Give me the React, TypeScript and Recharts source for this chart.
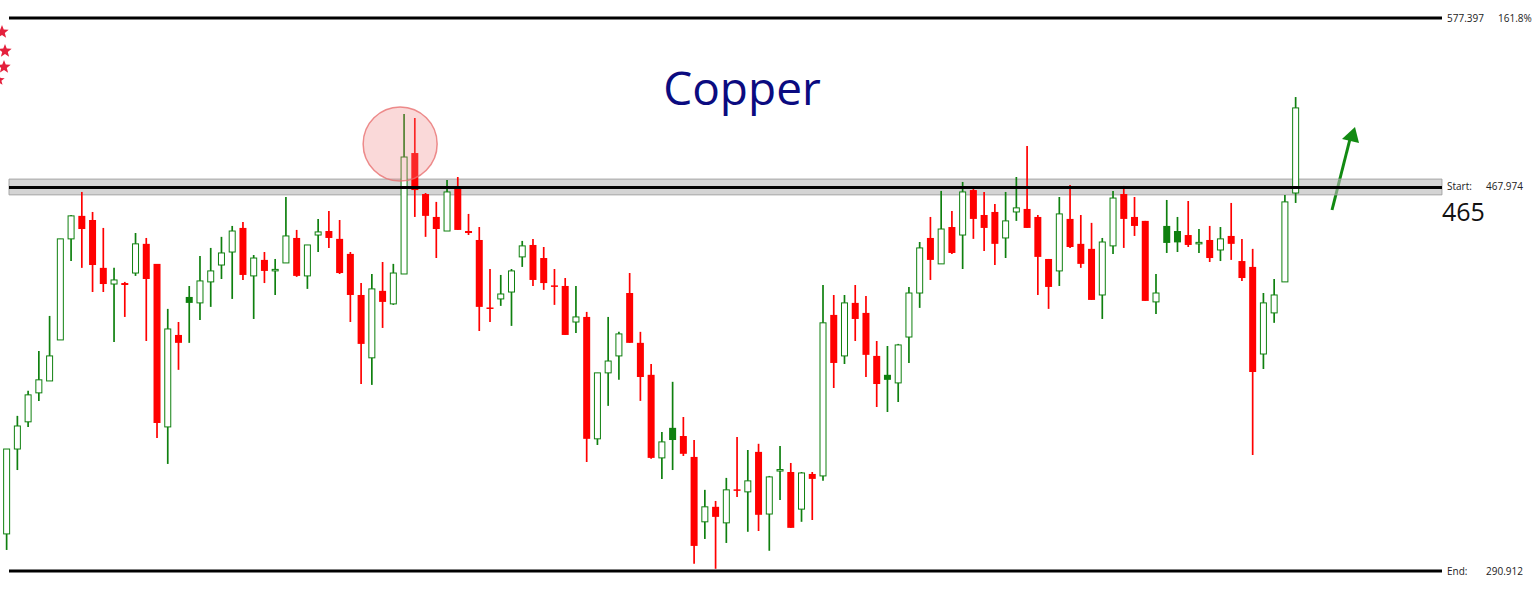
import React from 'react';
import {
  ComposedChart,
  Bar,
  XAxis,
  YAxis,
  ReferenceLine,
  ReferenceArea,
  ReferenceDot,
  Customized,
} from 'recharts';

// ---- data (Copper) ----
const OPEN = [
  304.6, 338.4, 350.0, 362.8, 368.2, 387.4, 439.1, 451.8, 449.5, 423.6,
  415.2, 415.7, 420.9, 436.4, 425.7, 347.8, 389.8, 408.6, 405.6, 416.3,
  425.1, 432.0, 445.1, 419.4, 427.8, 422.2, 426.2, 439.6, 419.4, 441.2,
  443.4, 439.1, 431.0, 409.6, 378.9, 411.7, 405.1, 420.4, 488.4, 464.2,
  451.2, 443.4, 467.7, 443.4, 438.5, 403.3, 407.6, 411.1, 429.4, 435.8,
  428.8, 414.5, 414.2, 396.1, 398.6, 342.7, 371.9, 379.8, 410.6, 386.0,
  371.0, 334.7, 347.4, 343.9, 335.1, 309.2, 315.0, 308.8, 321.9, 320.9,
  337.2, 312.2, 329.5, 328.9, 314.1, 328.1, 327.3, 399.6, 379.8, 405.6,
  400.6, 379.8, 371.0, 367.3, 388.8, 410.6, 439.6, 425.7, 445.6, 441.2,
  466.5, 452.3, 454.0, 439.6, 454.0, 455.7, 451.2, 428.3, 422.0, 450.1,
  436.4, 433.7, 409.6, 435.3, 464.2, 451.2, 449.0, 406.1, 446.2, 443.4,
  441.2, 436.6, 438.5, 433.1, 440.7, 427.2, 424.1, 380.7, 400.6, 416.3,
  464.8,
];
const HIGH = [
  338.4, 352.6, 363.7, 382.1, 399.1, 439.1, 452.3, 465.4, 454.0, 445.1,
  423.6, 416.3, 442.3, 439.6, 425.7, 402.6, 396.1, 414.2, 429.9, 434.2,
  440.2, 446.2, 448.4, 430.4, 432.0, 428.3, 462.5, 444.0, 435.8, 450.1,
  454.6, 449.5, 432.0, 415.7, 420.4, 426.7, 425.7, 512.6, 510.1, 464.8,
  459.7, 472.4, 474.1, 452.9, 445.6, 423.0, 419.9, 423.0, 438.0, 439.1,
  434.7, 423.0, 418.3, 414.2, 401.1, 371.9, 398.6, 391.3, 420.9, 391.3,
  376.0, 345.6, 367.8, 352.1, 342.2, 321.7, 317.3, 326.5, 343.5, 338.0,
  340.6, 327.3, 339.7, 332.6, 328.9, 328.9, 414.7, 409.6, 409.6, 414.7,
  409.1, 386.9, 384.5, 385.5, 413.7, 437.4, 451.2, 466.0, 454.6, 471.2,
  467.1, 465.4, 458.5, 465.4, 474.1, 492.7, 452.3, 428.3, 462.5, 469.5,
  452.3, 447.9, 439.6, 466.0, 468.9, 462.5, 449.0, 420.4, 460.8, 451.2,
  460.2, 444.5, 446.2, 445.6, 459.1, 439.1, 433.7, 410.6, 417.8, 463.7,
  523.5,
];
const LOW = [
  298.6, 329.7, 347.8, 359.2, 368.2, 387.4, 427.2, 423.6, 411.1, 411.1,
  386.4, 398.6, 419.4, 386.9, 343.1, 332.2, 373.3, 386.0, 397.1, 403.6,
  417.8, 407.6, 417.3, 397.6, 415.7, 409.6, 426.2, 418.9, 412.7, 432.0,
  434.2, 420.4, 396.1, 366.8, 366.4, 393.2, 404.6, 420.4, 451.2, 440.2,
  428.8, 443.4, 444.0, 441.2, 391.7, 396.1, 404.1, 394.2, 424.1, 414.2,
  412.2, 404.6, 389.8, 390.8, 333.0, 340.1, 357.0, 368.7, 386.0, 359.2,
  334.3, 326.1, 329.7, 335.5, 293.5, 302.7, 291.7, 301.2, 318.9, 305.4,
  305.7, 298.3, 317.7, 306.9, 309.2, 309.9, 325.3, 365.0, 376.0, 386.9,
  370.0, 356.5, 354.3, 358.7, 376.5, 403.1, 417.3, 425.7, 431.0, 423.0,
  439.1, 432.6, 425.1, 428.8, 449.0, 445.1, 409.6, 402.6, 414.2, 434.2,
  423.6, 407.1, 397.6, 431.0, 434.2, 440.7, 406.6, 400.1, 431.5, 432.0,
  434.7, 431.5, 426.7, 427.2, 427.8, 416.8, 335.9, 373.7, 395.7, 416.3,
  459.1,
];
const CLOSE = [
  338.4, 348.2, 361.9, 368.7, 379.8, 439.1, 451.8, 444.5, 425.1, 415.2,
  417.3, 414.7, 436.4, 417.8, 349.5, 392.7, 386.0, 405.6, 416.8, 422.0,
  431.5, 443.4, 419.9, 428.8, 422.0, 422.8, 440.7, 419.4, 435.8, 442.9,
  439.6, 420.9, 409.6, 385.5, 412.7, 406.1, 420.9, 486.0, 466.5, 451.8,
  444.5, 465.4, 444.0, 442.3, 403.6, 402.8, 410.1, 422.0, 435.3, 417.3,
  415.7, 414.0, 389.8, 398.6, 342.7, 371.9, 377.4, 390.3, 386.0, 370.0,
  334.7, 341.4, 342.2, 336.4, 300.1, 315.0, 311.1, 321.7, 321.5, 325.3,
  311.9, 326.9, 329.9, 306.9, 328.5, 326.1, 395.7, 376.5, 405.6, 397.6,
  380.3, 366.8, 368.7, 385.0, 410.6, 434.2, 427.8, 444.5, 431.5, 465.4,
  450.1, 445.1, 436.4, 449.0, 456.3, 445.1, 429.4, 413.7, 452.9, 434.7,
  425.7, 407.1, 437.4, 461.9, 450.1, 446.2, 406.6, 410.6, 436.9, 437.2,
  435.8, 437.2, 428.8, 439.1, 436.4, 418.3, 372.3, 405.6, 409.6, 459.7,
  516.5,
];

// Fibonacci levels drawn on the chart
const LEVEL_TOP = 577.397; // 161.8%
const LEVEL_START = 467.974;
const LEVEL_END = 290.912;
const BAND_LOW = 463.7;
const BAND_HIGH = 472.9;
const TITLE = 'Copper';
const TARGET_LABEL = '465';
const CIRCLE_AT = { i: 36.6, price: 493.9 };

const GREEN = '#0f800f';
const RED = '#ff0000';

const data = OPEN.map((o, i) => ({
  i,
  open: o,
  high: HIGH[i],
  low: LOW[i],
  close: CLOSE[i],
  prevClose: i > 0 ? CLOSE[i - 1] : null,
  range: [LOW[i], HIGH[i]],
}));

const Candle = (props: any) => {
  const { x, y, width, height, payload } = props;
  if (!payload) return null;
  const cx = x + width / 2;
  const top = Math.min(y, y + height);
  const bot = Math.max(y, y + height);
  const { open, high, low, close, prevClose } = payload;
  const lh = Math.log(high);
  const ll = Math.log(low);
  const span = lh - ll;
  const py = (p: number) => (span > 0 ? top + ((lh - Math.log(p)) / span) * (bot - top) : top);
  const color = prevClose == null || close >= prevClose ? GREEN : RED;
  const hollow = close > open;
  const bTop = py(Math.max(open, close));
  const bBot = py(Math.min(open, close));
  const bh = Math.max(bBot - bTop, 1.5);
  return (
    <g>
      <line x1={cx} x2={cx} y1={top} y2={bot} stroke={color} strokeWidth={1.7} />
      {hollow ? (
        <rect x={cx - 3} y={bTop} width={6} height={bh} fill="#ffffff" stroke={color} strokeWidth={1} />
      ) : (
        <rect x={cx - 3.5} y={bTop} width={7} height={bh} fill={color} />
      )}
    </g>
  );
};

const LevelLabel = (props: any) => {
  const { viewBox, first, second, gap, dy = 3.5 } = props;
  if (!viewBox) return null;
  const x0 = viewBox.x + viewBox.width + 5;
  const y0 = viewBox.y + dy;
  return (
    <g>
      <text x={x0} y={y0} fontSize={10} fill="#222" fontFamily="'Open Sans', sans-serif">
        {first}
      </text>
      <text x={x0 + gap} y={y0} fontSize={10} fill="#222" fontFamily="'Open Sans', sans-serif">
        {second}
      </text>
    </g>
  );
};

const star = (cx: number, cy: number, r: number) => {
  const pts: string[] = [];
  for (let k = 0; k < 10; k++) {
    const rr = k % 2 === 0 ? r : r * 0.42;
    const a = -Math.PI / 2 + (k * Math.PI) / 5;
    pts.push(`${cx + rr * Math.cos(a)},${cy + rr * Math.sin(a)}`);
  }
  return pts.join(' ');
};

const Overlay = () => (
  <g>
    <text
      x={742}
      y={105}
      textAnchor="middle"
      fontSize={46}
      fill="#0b0b80"
      fontFamily="'Open Sans', 'Noto Sans', sans-serif"
    >
      {TITLE}
    </text>
    <text x={1442} y={221} fontSize={25} fill="#111" fontFamily="'Open Sans', 'Noto Sans', sans-serif">
      {TARGET_LABEL}
    </text>
    <line x1={1332} y1={210} x2={1350} y2={139} stroke="#128a12" strokeWidth={3} />
    <polygon points="1355,127 1342,139 1359,143" fill="#128a12" />
    <polygon points={star(2, 32, 7)} fill="#e4203c" />
    <polygon points={star(5, 51, 7)} fill="#e4203c" />
    <polygon points={star(4, 67, 7)} fill="#e4203c" />
    <polygon points={star(-1, 80, 6)} fill="#e4203c" />
  </g>
);

const X_MIN = -0.6517;
const X_MAX = 142.435;
const LINE_X1 = 0.186;
const LINE_X2 = 133.59;

export default function App() {
  return (
    <div style={{ position: 'absolute', left: 0, top: 0, width: 1537, height: 600, background: '#fff' }}>
      <ComposedChart
        width={1537}
        height={600}
        data={data}
        margin={{ top: 18, right: 0, bottom: 29, left: 0 }}
      >
        <XAxis dataKey="i" type="number" domain={[X_MIN, X_MAX]} allowDataOverflow hide />
        <YAxis type="number" scale="log" domain={[LEVEL_END, LEVEL_TOP]} allowDataOverflow hide />
        <Bar dataKey="range" barSize={8} shape={<Candle />} isAnimationActive={false} />
        <ReferenceArea
          x1={LINE_X1}
          x2={LINE_X2}
          y1={BAND_LOW}
          y2={BAND_HIGH}
          fill="#b8b8b8"
          fillOpacity={0.6}
          stroke="#9a9a9a"
          strokeOpacity={0.8}
          ifOverflow="visible"
        />
        <ReferenceLine
          segment={[
            { x: LINE_X1, y: LEVEL_TOP },
            { x: LINE_X2, y: LEVEL_TOP },
          ]}
          stroke="#000"
          strokeWidth={3}
          ifOverflow="visible"
          label={<LevelLabel first="577.397" second="161.8%" gap={51} />}
        />
        <ReferenceLine
          segment={[
            { x: LINE_X1, y: LEVEL_START },
            { x: LINE_X2, y: LEVEL_START },
          ]}
          stroke="#000"
          strokeWidth={3}
          ifOverflow="visible"
          label={<LevelLabel first="Start:" second="467.974" gap={39} dy={2.5} />}
        />
        <ReferenceLine
          segment={[
            { x: LINE_X1, y: LEVEL_END },
            { x: LINE_X2, y: LEVEL_END },
          ]}
          stroke="#000"
          strokeWidth={3}
          ifOverflow="visible"
          label={<LevelLabel first="End:" second="290.912" gap={39} />}
        />
        <ReferenceDot
          x={CIRCLE_AT.i}
          y={CIRCLE_AT.price}
          r={37}
          fill="#f08080"
          fillOpacity={0.3}
          stroke="#e87070"
          strokeOpacity={0.8}
          strokeWidth={1.5}
          ifOverflow="visible"
        />
        <Customized component={<Overlay />} />
      </ComposedChart>
    </div>
  );
}
